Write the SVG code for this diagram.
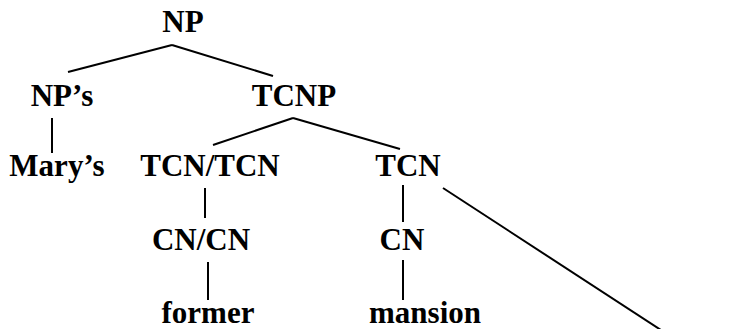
<svg xmlns="http://www.w3.org/2000/svg" width="754" height="329" viewBox="0 0 754 329">
<style>
text{font-family:"Liberation Serif","Times New Roman",serif;font-weight:bold;font-size:31px;fill:#000;text-anchor:middle}
.e line{stroke:#000;stroke-width:2;stroke-linecap:butt}
</style>
<rect width="754" height="329" fill="#fff"/>
<g class="e" id="connectors">
<line x1="172" y1="45" x2="68" y2="72"/>
<line x1="172" y1="45" x2="273" y2="76"/>
<line x1="52" y1="118" x2="52" y2="153"/>
<line x1="293" y1="118" x2="213" y2="145"/>
<line x1="293" y1="118" x2="400" y2="149"/>
<line x1="205" y1="188" x2="205" y2="218"/>
<line x1="208" y1="262" x2="208" y2="300"/>
<line x1="403" y1="185" x2="403" y2="222"/>
<line x1="403" y1="260" x2="403" y2="300"/>
<line x1="443" y1="188" x2="664" y2="332"/>
</g>
<g id="n-np"><text x="183" y="32">NP</text></g>
<g id="n-nps"><text x="62" y="106">NP’s</text></g>
<g id="n-tcnp"><text x="294" y="106">TCNP</text></g>
<g id="n-marys"><text x="57" y="176">Mary’s</text></g>
<g id="n-tcntcn"><text x="210" y="176">TCN/TCN</text></g>
<g id="n-tcn"><text x="408" y="176">TCN</text></g>
<g id="n-cncn"><text x="201" y="250">CN/CN</text></g>
<g id="n-cn"><text x="402" y="250">CN</text></g>
<g id="n-former"><text x="208" y="323">former</text></g>
<g id="n-mansion"><text x="425" y="323">mansion</text></g>
</svg>
